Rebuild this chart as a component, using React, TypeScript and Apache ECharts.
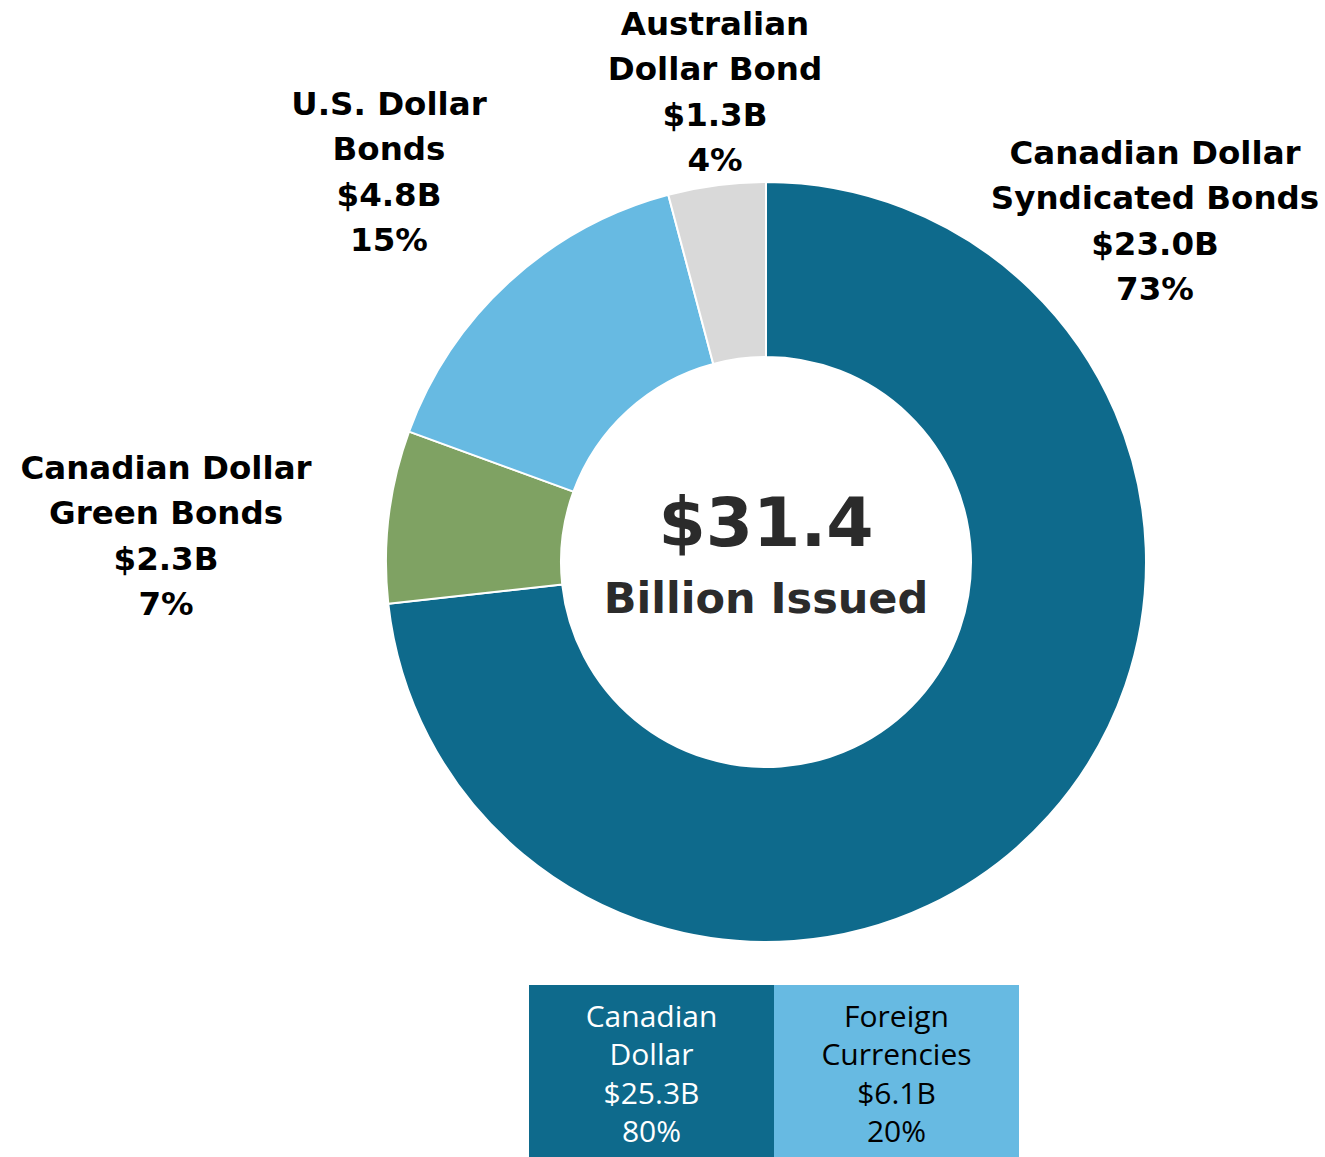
import React, { useEffect, useRef } from "react";
import * as echarts from "echarts";

const categories = [
  "Canadian Dollar\nSyndicated Bonds",
  "Canadian Dollar\nGreen Bonds",
  "U.S. Dollar\nBonds",
  "Australian\nDollar Bond",
];
const values = [23.0, 2.3, 4.8, 1.3];
const percents = ["73%", "7%", "15%", "4%"];
const sliceColors = ["#0E6A8C", "#7FA263", "#67BAE2", "#D9D9D9"];

const totalLabel = "$31.4";
const totalSub = "Billion Issued";

const summaryNames = ["Canadian\nDollar", "Foreign\nCurrencies"];
const summaryValues = [25.3, 6.1];
const summaryPercents = ["80%", "20%"];
const summaryColors = ["#0E6A8C", "#67BAE2"];
const summaryTextColors = ["#FFFFFF", "#000000"];

// label block centres (layout only)
const labelPos: [number, number][] = [
  [1155, 221],
  [166, 536],
  [389, 172],
  [715, 92],
];

export default function App() {
  const ref = useRef<HTMLDivElement>(null);
  useEffect(() => {
    if (!ref.current) return;
    const chart = echarts.init(ref.current, null, { renderer: "svg" });
    const labelFont = "DejaVu Sans";
    const boxW = 245;
    const boxX0 = 529;
    const boxY = 985;
    const boxH = 172;
    const graphics: any[] = [
      {
        type: "text",
        style: {
          text: totalLabel,
          x: 766,
          y: 522,
          align: "center",
          verticalAlign: "middle",
          fontSize: 68,
          fontWeight: "bold",
          fontFamily: labelFont,
          fill: "#2B2B2B",
        },
      },
      {
        type: "text",
        style: {
          text: totalSub,
          x: 766,
          y: 598,
          align: "center",
          verticalAlign: "middle",
          fontSize: 43,
          fontWeight: "bold",
          fontFamily: labelFont,
          fill: "#2B2B2B",
        },
      },
    ];
    summaryNames.forEach((n, i) => {
      graphics.push({
        type: "rect",
        shape: { x: boxX0 + i * boxW, y: boxY, width: boxW, height: boxH },
        style: { fill: summaryColors[i] },
      });
      graphics.push({
        type: "text",
        style: {
          text: n + "\n$" + summaryValues[i].toFixed(1) + "B\n" + summaryPercents[i],
          x: boxX0 + i * boxW + boxW / 2,
          y: 1073,
          align: "center",
          verticalAlign: "middle",
          fontSize: 30,
          fontWeight: 500,
          lineHeight: 38.5,
          fontFamily: "Open Sans",
          fill: summaryTextColors[i],
        },
      });
    });

    chart.setOption({
      animation: false,
      series: [
        {
          type: "pie",
          center: [766, 562],
          radius: [205, 380],
          startAngle: 90,
          clockwise: true,
          avoidLabelOverlap: false,
          itemStyle: { borderColor: "#FFFFFF", borderWidth: 2 },
          label: {
            show: true,
            position: "outside",
            formatter: (p: any) =>
              categories[p.dataIndex] + "\n$" + values[p.dataIndex].toFixed(1) + "B\n" + percents[p.dataIndex],
            fontSize: 32.5,
            lineHeight: 45.5,
            fontWeight: "bold",
            fontFamily: labelFont,
            color: "#000000",
            align: "center",
          },
          labelLine: { show: false },
          labelLayout: (params: any) => ({
            x: labelPos[params.dataIndex][0],
            y: labelPos[params.dataIndex][1],
            align: "center",
            verticalAlign: "middle",
          }),
          emphasis: { disabled: true },
          data: values.map((v, i) => ({
            value: v,
            name: categories[i],
            itemStyle: { color: sliceColors[i] },
          })),
        },
      ],
      graphic: graphics,
    });
    return () => chart.dispose();
  }, []);
  return (
    <div
      ref={ref}
      style={{ position: "absolute", left: 0, top: 0, width: 1325, height: 1157 }}
    />
  );
}
